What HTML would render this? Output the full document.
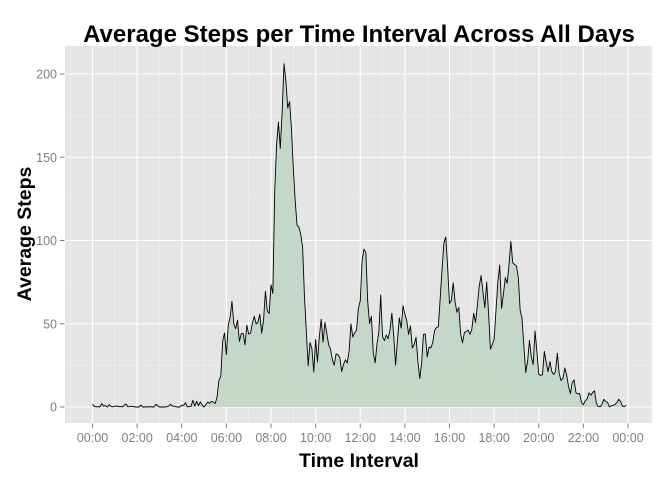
<!DOCTYPE html>
<html><head><meta charset="utf-8"><style>
body{margin:0;background:#fff;}
text{font-family:"Liberation Sans",sans-serif;}
</style></head><body>
<svg id="chart" width="672" height="480" xmlns="http://www.w3.org/2000/svg">
<rect x="65" y="46" width="587" height="377" fill="#e5e5e5"/>
<g id="grid"></g>
<g id="series"></g>
<g id="axes"></g>
<text x="359" y="42" text-anchor="middle" font-size="24" font-weight="bold">Average Steps per Time Interval Across All Days</text>
<text x="359" y="467" text-anchor="middle" font-size="19.5" font-weight="bold">Time Interval</text>
<text transform="translate(31,234) rotate(-90)" text-anchor="middle" font-size="19.5" font-weight="bold">Average Steps</text>
</svg>
<script>
const steps=[1.72,0.34,0.13,0.15,0.08,2.09,0.53,0.87,0,1.47,0.30,0.13,0.32,0.68,0.15,0.34,0,1.11,1.83,0.17,0.17,0.38,0.26,0,0,0,1.13,0,0,0.13,0,0.23,0,0,1.55,0.94,0,0,0,0,0.21,0.62,1.62,0.58,0.49,0.08,0,0,1.19,0.94,2.57,0,0.34,0.36,4.11,0.66,3.49,0.83,3.11,1.11,0,1.57,3.0,2.25,3.32,2.96,2.09,6.06,16.02,18.34,39.45,44.49,31.49,49.26,53.77,63.45,49.96,47.08,52.15,39.34,44.02,44.17,37.36,49.04,43.81,44.38,50.51,54.51,49.92,50.98,55.68,44.32,52.26,69.55,57.85,56.15,73.38,68.21,129.43,157.53,171.15,155.40,177.30,206.17,195.92,179.57,183.40,167.02,143.45,124.04,109.11,108.11,103.72,95.96,66.21,45.23,24.79,38.75,34.98,21.06,40.57,26.98,42.42,52.66,38.92,50.79,44.28,37.42,34.70,28.34,25.09,31.94,31.36,29.68,21.32,25.55,28.38,26.47,33.43,49.98,42.04,44.60,46.04,59.19,63.87,87.70,94.85,92.77,63.40,50.17,54.47,32.42,26.53,37.74,45.06,67.28,42.34,39.89,43.26,40.98,46.25,56.43,42.75,25.13,39.96,53.55,47.32,60.81,55.75,51.96,43.58,48.70,35.47,37.55,41.85,27.51,17.11,26.08,43.62,43.77,30.02,36.08,35.49,38.85,45.96,47.75,48.13,65.32,82.91,98.66,102.11,83.96,62.13,64.13,74.55,63.17,56.91,59.77,43.87,38.57,44.66,45.45,46.21,43.68,46.62,56.30,50.72,61.23,72.72,78.94,68.94,59.66,75.09,56.51,34.77,37.45,40.68,58.02,74.70,85.32,59.26,67.77,77.70,74.25,85.34,99.45,86.58,85.60,84.87,77.83,58.04,53.36,36.32,20.72,27.40,40.02,30.21,25.55,45.66,33.53,19.62,19.02,19.34,33.34,26.81,21.17,27.30,21.34,19.55,21.32,32.30,20.15,15.94,17.23,23.45,19.25,12.45,8.02,14.66,16.30,8.68,7.79,8.13,2.62,1.45,3.68,4.81,8.51,7.08,8.70,9.75,2.21,0.32,0.11,1.60,4.60,3.30,2.85,0,0.83,0.96,1.58,2.60,4.70,3.30,0.64,0.23,1.08];
const yTicks=[0,50,100,150,200];
const xTickLabels=["00:00","02:00","04:00","06:00","08:00","10:00","12:00","14:00","16:00","18:00","20:00","22:00","00:00"];
const xTickHours=[0,2,4,6,8,10,12,14,16,18,20,22,24];

const NS="http://www.w3.org/2000/svg";
const X0=92.5, HPX=(628-92.5)/24;
const xH=h=>X0+h*HPX;
const xI=i=>xH(i*5/60*(288/steps.length));
const yV=v=>407-v*(407-74)/200;
function mk(tag,attrs,parent){const e=document.createElementNS(NS,tag);for(const k in attrs)e.setAttribute(k,attrs[k]);parent.appendChild(e);return e;}
const grid=document.getElementById('grid'),axes=document.getElementById('axes'),series=document.getElementById('series');
for(let v=25;v<=225;v+=50){const y=yV(v);if(y<46)continue;const l=mk('line',{x1:65,x2:652,y1:y,y2:y,stroke:'#f2f2f2','stroke-width':0.6},grid);

}
for(let h=-1;h<=25;h+=2){const x=xH(h);if(x<65||x>652)continue;const l=mk('line',{x1:x,x2:x,y1:46,y2:423,stroke:'#f2f2f2','stroke-width':0.6},grid);

}
yTicks.forEach(v=>{const y=yV(v);const l=mk('line',{x1:65,x2:652,y1:y,y2:y,stroke:'#fff','stroke-width':1.1},grid);


const t=mk('line',{x1:60,x2:64.5,y1:y,y2:y,stroke:'#7f7f7f','stroke-width':1},axes);


const tx=mk('text',{x:57,y:y+4.5,'text-anchor':'end','font-size':12.5,fill:'#7f7f7f'},axes);tx.textContent=v;

});
xTickHours.forEach((h,i)=>{const x=xH(h);const l=mk('line',{x1:x,x2:x,y1:46,y2:423,stroke:'#fff','stroke-width':1.1},grid);


const t=mk('line',{x1:x,x2:x,y1:423.5,y2:428,stroke:'#7f7f7f','stroke-width':1},axes);


const tx=mk('text',{x:x,y:442,'text-anchor':'middle','font-size':12.5,fill:'#7f7f7f'},axes);tx.textContent=xTickLabels[i];

});
let d='',a='M'+xI(0)+','+yV(0);
steps.forEach((v,i)=>{d+=(i?'L':'M')+xI(i).toFixed(2)+','+yV(v).toFixed(2);a+='L'+xI(i).toFixed(2)+','+yV(v).toFixed(2);});
a+='L'+xI(steps.length-1)+','+yV(0)+'Z';
const area=mk('path',{d:a,fill:'#c3d8c9',stroke:'none'},series);


const line=mk('path',{d:d,fill:'none',stroke:'#000','stroke-width':0.9,'stroke-linejoin':'round'},series);


</script>
</body></html>
